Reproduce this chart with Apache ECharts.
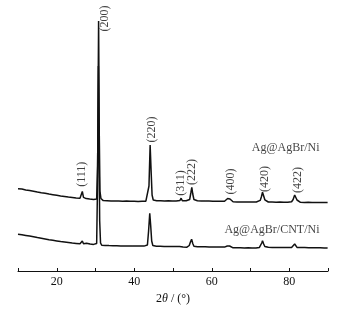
<!DOCTYPE html>
<html>
<head>
<meta charset="utf-8">
<title>XRD</title>
<script src="https://cdn.jsdelivr.net/npm/echarts@6/dist/echarts.min.js"></script>
<style>
  html, body { margin: 0; padding: 0; background: #fff; }
  #main { width: 350px; height: 311px; }
</style>
</head>
<body>
<div id="main"></div>
<script type="text/javascript">
// 2theta (deg), intensity (a.u., offset)
var patternNi = [
  [10,82.2],[10.5,81.3],[11,81.9],[11.5,80.8],[12,81.0],[12.5,80.2],[13,80.5],[13.5,79.4],[14,79.8],[14.5,78.7],
  [15,79.0],[15.5,78.0],[16,78.3],[16.5,77.3],[17,77.7],[17.5,76.6],[18,76.9],[18.5,76.0],[19,76.3],[19.5,75.3],
  [20,75.7],[20.5,74.8],[21,75.1],[21.5,74.2],[22,74.6],[22.5,73.7],[23,74.0],[23.5,73.2],[24,73.6],[24.5,72.8],
  [25,73.1],[25.5,72.3],[26,72.7],[26.3,73.4],[26.6,79.5],[26.9,73.6],[27.2,72.0],[27.6,72.4],[28,71.5],[28.5,71.9],
  [29,71.1],[29.5,71.6],[30,70.9],[30.3,72.0],[30.55,105],[30.8,250],[30.98,135],[31.15,80],[31.4,72.5],[31.7,71.2],
  [32,70.4],[32.5,71.1],[33,70.3],[33.5,70.9],[34,70.1],[34.5,70.8],[35,70.0],[35.5,70.7],[36,69.9],[36.5,70.6],
  [37,69.8],[37.5,70.6],[38,69.9],[38.5,70.5],[39,69.7],[39.5,70.4],[40,69.8],[40.5,70.5],[41,69.6],[41.5,70.3],
  [42,69.7],[42.5,70.4],[43,69.8],[43.5,71.5],[43.8,85],[44.1,126],[44.35,100],[44.6,76],[44.9,71.0],[45.3,69.6],
  [45.8,70.3],[46.3,69.5],[46.8,70.2],[47.3,69.4],[47.8,70.1],[48.3,69.5],[48.8,70.2],[49.3,69.4],[49.8,70.0],[50.3,69.3],
  [50.8,70.1],[51.3,69.4],[51.8,70.6],[52.1,72.8],[52.4,70.2],[52.9,69.5],[53.4,70.2],[53.9,69.6],[54.3,71.5],[54.6,78],
  [54.85,83.7],[55.1,77],[55.4,71.5],[55.8,69.8],[56.3,70.3],[56.8,69.4],[57.3,70.1],[57.8,69.3],[58.3,70.0],[58.8,69.2],
  [59.3,69.9],[59.8,69.1],[60.3,69.8],[60.8,69.0],[61.3,69.8],[61.8,69.1],[62.3,69.7],[62.8,69.0],[63.3,69.8],[63.8,70.5],
  [64.1,72.5],[64.4,74.5],[64.7,72.0],[65.0,70.2],[65.5,69.2],[66,69.8],[66.5,69.0],[67,69.7],[67.5,69.0],[68,69.6],
  [68.5,68.9],[69,69.7],[69.5,69.0],[70,69.6],[70.5,68.9],[71,69.6],[71.5,69.0],[72,69.8],[72.5,70.6],[72.8,74],
  [73.1,78.7],[73.4,75],[73.7,71.2],[74.1,69.6],[74.6,69.0],[75.1,69.7],[75.6,68.9],[76.1,69.5],[76.6,68.8],[77.1,69.6],
  [77.6,68.9],[78.1,69.5],[78.6,68.8],[79.1,69.4],[79.6,68.8],[80.1,69.5],[80.6,69.3],[81.0,71.5],[81.4,76],[81.7,73.5],
  [82.0,71.0],[82.4,69.3],[82.9,68.7],[83.4,69.4],[83.9,68.6],[84.4,69.3],[84.9,68.7],[85.4,69.3],[85.9,68.6],[86.4,69.2],
  [86.9,68.5],[87.4,69.2],[87.9,68.6],[88.4,69.1],[88.9,68.5],[89.4,69.1],[89.9,68.6]
];

var patternCntNi = [
  [10,36.8],[10.5,35.9],[11,36.3],[11.5,35.3],[12,35.6],[12.5,34.6],[13,34.9],[13.5,33.9],[14,34.2],[14.5,33.1],
  [15,33.4],[15.5,32.4],[16,32.7],[16.5,31.7],[17,32.0],[17.5,31.0],[18,31.3],[18.5,30.4],[19,30.7],[19.5,29.8],
  [20,30.1],[20.5,29.2],[21,29.5],[21.5,28.6],[22,29.0],[22.5,28.1],[23,28.5],[23.5,27.6],[24,28.0],[24.5,27.2],
  [25,27.6],[25.5,26.8],[26,27.2],[26.3,27.5],[26.6,30],[26.9,27.3],[27.3,26.6],[27.7,27.8],[28.1,26.4],[28.6,26.9],
  [29,26.1],[29.5,26.6],[30,25.8],[30.3,27.5],[30.5,80],[30.74,205],[30.92,120],[31.08,50],[31.3,28],[31.6,25.8],
  [32,25.0],[32.5,25.6],[33,24.8],[33.5,25.4],[34,24.6],[34.5,25.3],[35,24.5],[35.5,25.2],[36,24.4],[36.5,25.1],
  [37,24.3],[37.5,25.0],[38,24.4],[38.5,25.1],[39,24.3],[39.5,25.0],[40,24.2],[40.5,24.9],[41,24.3],[41.5,25.0],
  [42,24.2],[42.5,24.9],[43,24.6],[43.4,26],[43.7,40],[44.0,57.7],[44.25,45],[44.5,30],[44.8,25.5],[45.2,24.2],
  [45.7,24.8],[46.2,24.0],[46.7,24.7],[47.2,23.9],[47.7,24.6],[48.2,23.9],[48.7,24.5],[49.2,23.8],[49.7,24.5],[50.2,23.8],
  [50.7,24.4],[51.2,23.7],[51.7,24.4],[52.2,25.0],[52.6,24.0],[53.1,24.5],[53.6,23.8],[54.2,25.5],[54.5,29],[54.8,31.7],
  [55.1,27.5],[55.4,24.8],[55.8,23.7],[56.3,24.3],[56.8,23.6],[57.3,24.2],[57.8,23.5],[58.3,24.2],[58.8,23.5],[59.3,24.1],
  [59.8,23.4],[60.3,24.1],[60.8,23.4],[61.3,24.0],[61.8,23.3],[62.3,24.0],[62.8,23.4],[63.3,23.9],[63.7,24.2],[64.0,25],
  [64.3,26.5],[64.6,25],[64.9,23.8],[65.4,23.3],[65.9,23.9],[66.4,23.2],[66.9,23.8],[67.4,23.2],[67.9,23.8],[68.4,23.1],
  [68.9,23.8],[69.4,23.2],[69.9,23.7],[70.4,23.1],[70.9,23.7],[71.4,23.1],[71.9,23.8],[72.3,23.6],[72.6,25],[72.9,28],
  [73.1,30.3],[73.4,27],[73.7,24.5],[74.1,23.2],[74.6,23.7],[75.1,23.0],[75.6,23.6],[76.1,22.9],[76.6,23.6],[77.1,23.0],
  [77.6,23.5],[78.1,22.9],[78.6,23.5],[79.1,22.9],[79.6,23.4],[80.1,22.9],[80.6,23.6],[81.0,24.5],[81.4,27],[81.7,25],
  [82.0,23.6],[82.5,22.9],[83.0,23.4],[83.5,22.8],[84.0,23.4],[84.5,22.8],[85.0,23.3],[85.5,22.7],[86.0,23.3],[86.5,22.7],
  [87.0,23.2],[87.5,22.6],[88.0,23.2],[88.5,22.6],[89.0,23.1],[89.5,22.6],[89.9,23.0]
];

// reflection labels: text, 2theta position, height of label centre
var peakHkl = ['(111)', '(200)', '(220)', '(311)', '(222)', '(400)', '(420)', '(422)'];
var peakLabelAngle = [26.45, 32.47, 44.54, 52.1, 54.87, 65.02, 73.62, 82.25];
var peakLabelY = [96.7, 252.5, 141.5, 88, 99, 89.5, 92, 91];

var sampleNames = ['Ag@AgBr/Ni', 'Ag@AgBr/CNT/Ni'];
var sampleLabelAngle = [87.8, 87.8];
var sampleLabelY = [123, 41];

var xTicks = [20, 40, 60, 80];

var serif = '"Liberation Serif", "Times New Roman", serif';
var ink = '#111';

var peakData = peakHkl.map(function (t, i) {
    return { value: [peakLabelAngle[i], peakLabelY[i]], name: t };
});
var sampleData = sampleNames.map(function (t, i) {
    return { value: [sampleLabelAngle[i], sampleLabelY[i]], name: t };
});

var myChart = echarts.init(document.getElementById('main'), null, { renderer: 'canvas' });

var option = {
    backgroundColor: '#fff',
    animation: false,
    grid: { left: 18, right: 22, top: 11, bottom: 40 },
    xAxis: {
        type: 'value',
        min: 10,
        max: 90,
        interval: 10,
        name: '{n|2}{i|θ}{n| / (°)}',
        nameLocation: 'middle',
        nameGap: 19,
        nameTextStyle: {
            rich: {
                n: { fontFamily: serif, fontSize: 12, color: ink },
                i: { fontFamily: serif, fontSize: 12, color: ink, fontStyle: 'italic' }
            }
        },
        axisLine: { lineStyle: { color: ink, width: 1 } },
        axisTick: { inside: true, length: 3, lineStyle: { color: ink } },
        axisLabel: {
            margin: 5,
            fontFamily: serif,
            fontSize: 12,
            color: ink,
            formatter: function (v) {
                return xTicks.indexOf(v) >= 0 ? String(v) : '';
            }
        },
        splitLine: { show: false }
    },
    yAxis: {
        type: 'value',
        min: 0,
        max: 260,
        show: false,
        splitLine: { show: false }
    },
    series: [
        {
            name: 'Ag@AgBr/CNT/Ni',
            type: 'line',
            data: patternCntNi,
            showSymbol: false,
            lineStyle: { color: ink, width: 1.5 },
            z: 2
        },
        {
            name: 'Ag@AgBr/Ni',
            type: 'line',
            data: patternNi,
            showSymbol: false,
            lineStyle: { color: ink, width: 1.5 },
            z: 3
        },
        {
            name: 'hkl',
            type: 'scatter',
            data: peakData,
            symbolSize: 0,
            silent: true,
            label: {
                show: true,
                position: 'inside',
                rotate: 90,
                align: 'center',
                verticalAlign: 'middle',
                fontFamily: serif,
                fontSize: 12,
                color: ink,
                formatter: '{b}'
            }
        },
        {
            name: 'samples',
            type: 'scatter',
            data: sampleData,
            symbolSize: 0,
            silent: true,
            label: {
                show: true,
                position: 'inside',
                align: 'right',
                verticalAlign: 'middle',
                fontFamily: serif,
                fontSize: 12,
                color: ink,
                formatter: '{b}'
            }
        }
    ]
};

myChart.setOption(option);
</script>
</body>
</html>
